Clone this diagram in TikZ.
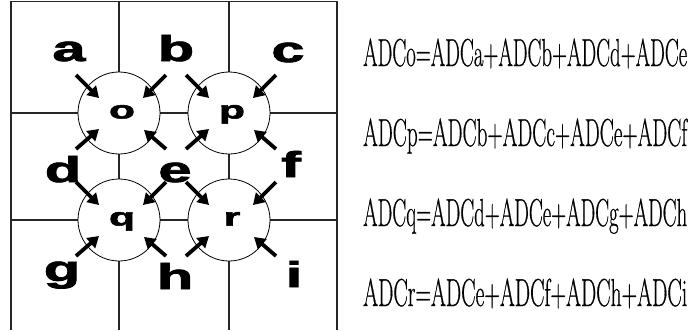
\documentclass[tikz,border=0pt]{standalone}
\usepackage{fontspec}
\newfontfamily\heavysans{Liberation Sans Bold}[FakeBold=2]
\newfontfamily\eqfont{Latin Modern Roman}[FakeBold=0.7]
\newcommand{\eqline}[1]{\resizebox{324pt}{\height}{\eqfont\fontsize{39}{39}\selectfont #1}}
\usetikzlibrary{arrows.meta}
\begin{document}
\begin{tikzpicture}[x=1pt,y=-1pt,
  frame/.style={line width=1.6pt, draw=black!85},
  gridline/.style={line width=1.1pt, draw=black!85},
  cell/.style={circle, draw, fill=white, line width=0.8pt, minimum size=82pt, inner sep=0pt},
  bigletter/.style={anchor=base, inner sep=0pt, font=\heavysans\fontsize{36}{36}\selectfont, xscale=1.65},
  smallletter/.style={anchor=base, inner sep=0pt, font=\heavysans\fontsize{25}{25}\selectfont, xscale=1.7},
  eq/.style={anchor=base west, inner sep=0pt},
  arr/.style={line width=3.8pt, -{Triangle[length=11pt,width=13pt]}}]
\useasboundingbox (0,0) rectangle (691,330);
% grid
\draw[frame] (11,330) -- (11,1.5) -- (337,1.5) -- (337,330);
\draw[gridline] (119,1.5) -- (119,330);
\draw[gridline] (229,1.5) -- (229,330);
\draw[gridline] (11,113) -- (337,113);
\draw[gridline] (11,220) -- (337,220);
% cells
\foreach \n/\cx/\cy in {o/119/113, p/229/113, q/119/220, r/229/220}{
  \node[cell] (\n) at (\cx,\cy) {};
  \node[smallletter] (\n-lab) at (\cx+3,\cy+5.5) {\n};
  \coordinate (\n-tl-s) at (\cx-43,\cy-38);
  \coordinate (\n-tl-e) at (\cx-20,\cy-15);
  \coordinate (\n-tr-s) at (\cx+47,\cy-38);
  \coordinate (\n-tr-e) at (\cx+24,\cy-15);
  \coordinate (\n-bl-s) at (\cx-43,\cy+36);
  \coordinate (\n-bl-e) at (\cx-20,\cy+16);
  \coordinate (\n-br-s) at (\cx+47,\cy+36);
  \coordinate (\n-br-e) at (\cx+25,\cy+17);
  \draw[arr] (\n-tl-s) -- (\n-tl-e);
  \draw[arr] (\n-tr-s) -- (\n-tr-e);
  \draw[arr] (\n-bl-s) -- (\n-bl-e);
  \draw[arr] (\n-br-s) -- (\n-br-e);
}
% area letters
\node[bigletter] (la) at (69,61) {a};
\node[bigletter] (lb) at (176,61) {b};
\node[bigletter] (lc) at (288,62) {c};
\node[bigletter] (ld) at (63,182) {d};
\node[bigletter] (le) at (175,182) {e};
\node[bigletter] (lf) at (291,177) {f};
\node[bigletter] (lg) at (62,281) {g};
\node[bigletter] (lh) at (175,289) {h};
\node[bigletter] (li) at (294,287) {i};
% equations
\node[eq] (eo) at (363,66) {\eqline{ADCo=ADCa+ADCb+ADCd+ADCe}};
\node[eq] (ep) at (363,146) {\eqline{ADCp=ADCb+ADCc+ADCe+ADCf}};
\node[eq] (eqq) at (363,226) {\eqline{ADCq=ADCd+ADCe+ADCg+ADCh}};
\node[eq] (er) at (363,306) {\eqline{ADCr=ADCe+ADCf+ADCh+ADCi}};
\end{tikzpicture}
\end{document}
